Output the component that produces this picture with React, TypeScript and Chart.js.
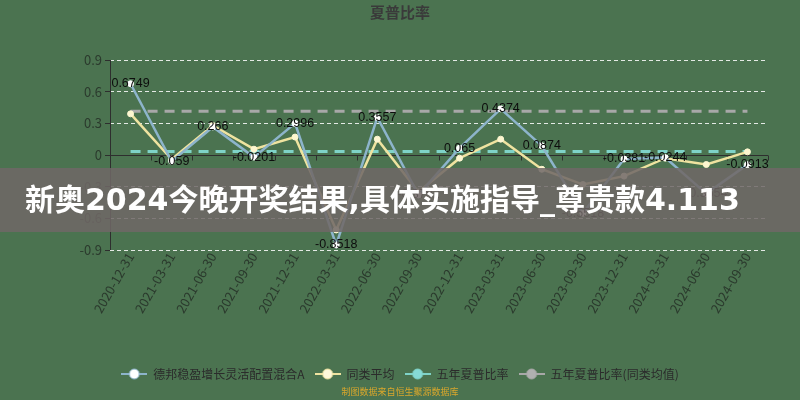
import React, { useEffect, useRef } from "react";
import { Chart, registerables } from "chart.js";

Chart.register(...registerables);

const categories = [
  "2020-12-31", "2021-03-31", "2021-06-30", "2021-09-30",
  "2021-12-31", "2022-03-31", "2022-06-30", "2022-09-30",
  "2022-12-31", "2023-03-31", "2023-06-30", "2023-09-30",
  "2023-12-31", "2024-03-31", "2024-06-30", "2024-09-30",
];

// 德邦稳盈增长灵活配置混合A
const fundSharpe = [
  0.6749, -0.059, 0.266, -0.0201, 0.2996, -0.8518, 0.3557, -0.3782,
  0.065, 0.4374, 0.0874, -0.5518, -0.0381, -0.0244, -0.3654, -0.0913,
];
// 同类平均
const peerAvgSharpe = [
  0.39, -0.04, 0.28, 0.055, 0.17, -0.71, 0.15, -0.35,
  -0.03, 0.15, -0.135, -0.28, -0.2, -0.03, -0.09, 0.03,
];
// 五年夏普比率
const fiveYearSharpe = [
  0.032, 0.032, 0.032, 0.032, 0.032, 0.032, 0.032, 0.032,
  0.032, 0.032, 0.032, 0.032, 0.032, 0.032, 0.032, 0.032,
];
// 五年夏普比率(同类均值)
const fiveYearPeerSharpe = [
  0.415, 0.415, 0.415, 0.415, 0.415, 0.415, 0.415, 0.415,
  0.415, 0.415, 0.415, 0.415, 0.415, 0.415, 0.415, 0.415,
];

const yTicks = [-0.9, -0.6, -0.3, 0, 0.3, 0.6, 0.9];

const seriesNames = [
  "德邦稳盈增长灵活配置混合A",
  "同类平均",
  "五年夏普比率",
  "五年夏普比率(同类均值)",
];

const BLUE = "#8db4cb";
const YELLOW = "#efe3a0";
const TEAL = "#7fd3c8";
const GRAY = "#a8a8a8";

const makeIcon = (line: string, fill: string, stroke: string) => {
  const c = document.createElement("canvas");
  c.width = 26;
  c.height = 12;
  const g = c.getContext("2d")!;
  g.strokeStyle = line;
  g.lineWidth = 2;
  g.beginPath();
  g.moveTo(0, 6);
  g.lineTo(26, 6);
  g.stroke();
  g.beginPath();
  g.arc(13, 6, 5, 0, Math.PI * 2);
  g.fillStyle = fill;
  g.fill();
  g.strokeStyle = stroke;
  g.lineWidth = 1;
  g.stroke();
  return c;
};

// zero line, y axis line and the small ticks on the zero line
const axisLines = {
  id: "axisLines",
  beforeDatasetsDraw(chart: any) {
    const { ctx, chartArea: a, scales } = chart;
    const x = scales.x;
    const y0 = Math.round(scales.y.getPixelForValue(0)) + 0.5;
    ctx.save();
    ctx.strokeStyle = "#2e2e2e";
    ctx.lineWidth = 1;
    ctx.beginPath();
    ctx.moveTo(Math.round(a.left) + 0.5, a.top);
    ctx.lineTo(Math.round(a.left) + 0.5, a.bottom);
    ctx.moveTo(a.left, y0);
    ctx.lineTo(a.right, y0);
    for (let k = 0; k <= categories.length; k++) {
      const px = Math.round(x.getPixelForValue(k - 0.5)) + 0.5;
      ctx.moveTo(px, y0);
      ctx.lineTo(px, y0 + 5);
    }
    ctx.stroke();
    ctx.restore();
  },
};

const valueLabels = {
  id: "valueLabels",
  afterDatasetsDraw(chart: any) {
    const { ctx } = chart;
    const meta = chart.getDatasetMeta(0);
    ctx.save();
    ctx.font = "12.5px 'Liberation Sans', sans-serif";
    ctx.fillStyle = "#0d0d0d";
    ctx.textAlign = "center";
    ctx.textBaseline = "middle";
    meta.data.forEach((pt: any, i: number) => {
      ctx.fillText(String(fundSharpe[i]), pt.x, pt.y);
    });
    ctx.restore();
  },
};

const SharpeChart = () => {
  const chartRef = useRef<HTMLCanvasElement>(null);
  const chartInstanceRef = useRef<Chart | null>(null);

  useEffect(() => {
    document.body.style.margin = "0";
    if (!chartRef.current) return;
    const context = chartRef.current.getContext("2d");
    if (!context) return;

    Chart.defaults.font.family = "'Noto Sans CJK SC', 'Noto Sans', sans-serif";

    const icons = [
      makeIcon(BLUE, "#ffffff", BLUE),
      makeIcon(YELLOW, "#fff8da", YELLOW),
      makeIcon(TEAL, "#86dbd6", TEAL),
      makeIcon(GRAY, "#b0b0b0", GRAY),
    ];

    chartInstanceRef.current = new Chart(context, {
      type: "line",
      data: {
        labels: categories,
        datasets: [
          {
            label: seriesNames[0],
            data: fundSharpe,
            borderColor: BLUE,
            borderWidth: 2.5,
            pointRadius: 3,
            pointBackgroundColor: "#ffffff",
            pointBorderColor: "#ffffff",
            pointBorderWidth: 1,
          },
          {
            label: seriesNames[1],
            data: peerAvgSharpe,
            borderColor: YELLOW,
            borderWidth: 2.5,
            pointRadius: 3,
            pointBackgroundColor: "#fdf6d0",
            pointBorderColor: "#fdf6d0",
            pointBorderWidth: 1,
          },
          {
            label: seriesNames[2],
            data: fiveYearSharpe,
            borderColor: TEAL,
            borderWidth: 3,
            borderDash: [10, 7],
            pointRadius: 0,
          },
          {
            label: seriesNames[3],
            data: fiveYearPeerSharpe,
            borderColor: GRAY,
            borderWidth: 3,
            borderDash: [10, 7],
            pointRadius: 0,
          },
        ],
      },
      options: {
        responsive: false,
        animation: false,
        layout: {
          padding: { left: 32, right: 32, top: 0, bottom: 10 },
        },
        scales: {
          x: {
            type: "category",
            offset: true,
            grid: { display: false },
            border: { display: false },
            ticks: {
              autoSkip: false,
              minRotation: 60,
              maxRotation: 60,
              color: "#2b3a2d",
              font: { size: 13 },
              padding: -8,
            },
            afterFit: (s: any) => {
              s.height = 108;
            },
          },
          y: {
            min: -0.9,
            max: 0.9,
            afterBuildTicks: (s: any) => {
              s.ticks = yTicks.map((v) => ({ value: v }));
            },
            afterFit: (s: any) => {
              s.width = 78;
            },
            grid: {
              color: (c: any) =>
                c.tick && c.tick.value === 0 ? "rgba(0,0,0,0)" : "rgba(255,255,255,0.85)",
              lineWidth: 1,
              tickColor: "#2e2e2e",
              tickLength: 5,
              tickBorderDash: [],
            },
            border: { display: false, dash: [4, 3] },
            ticks: {
              color: "#2b3a2d",
              font: { size: 13 },
              padding: 3,
              callback: (v: any) => String(v),
            },
          },
        },
        plugins: {
          title: {
            display: true,
            text: "夏普比率",
            color: "#3a3a3a",
            font: { size: 15, weight: "bold" },
            padding: { top: 3, bottom: 39 },
          },
          legend: {
            display: true,
            position: "bottom",
            labels: {
              usePointStyle: true,
              pointStyleWidth: 26,
              boxHeight: 12,
              padding: 10,
              color: "#2b2b2b",
              font: { size: 12 },
              generateLabels: (chart: any) =>
                Chart.defaults.plugins.legend.labels
                  .generateLabels(chart)
                  .map((l: any, i: number) => ({ ...l, pointStyle: icons[i] })),
            },
          },
          tooltip: { enabled: false },
        },
      },
      plugins: [axisLines, valueLabels],
    });

    return () => {
      if (chartInstanceRef.current) {
        chartInstanceRef.current.destroy();
        chartInstanceRef.current = null;
      }
    };
  }, []);

  return (
    <div style={{ position: "relative", width: 800, height: 400, background: "#4b7350", overflow: "hidden" }}>
      <canvas ref={chartRef} width={800} height={400} style={{ display: "block" }} />
      <div
        style={{
          position: "absolute",
          left: 0,
          top: 168,
          width: 800,
          height: 64,
          background: "rgba(112,104,102,0.86)",
          color: "#fff",
          fontFamily: "'DejaVu Sans', 'Noto Sans CJK SC', sans-serif",
          fontWeight: "bold",
          fontSize: 30,
          lineHeight: "64px",
          paddingLeft: 25,
          boxSizing: "border-box",
          whiteSpace: "nowrap",
        }}
      >
        新奥2024今晚开奖结果,具体实施指导_尊贵款4.113
      </div>
      <div
        style={{
          position: "absolute",
          left: 0,
          top: 386,
          width: 800,
          textAlign: "center",
          color: "#d9a72c",
          fontFamily: "'Noto Sans CJK SC', sans-serif",
          fontSize: 9,
          lineHeight: "12px",
        }}
      >
        制图数据来自恒生聚源数据库
      </div>
    </div>
  );
};

export default function App() {
  return <SharpeChart />;
}
